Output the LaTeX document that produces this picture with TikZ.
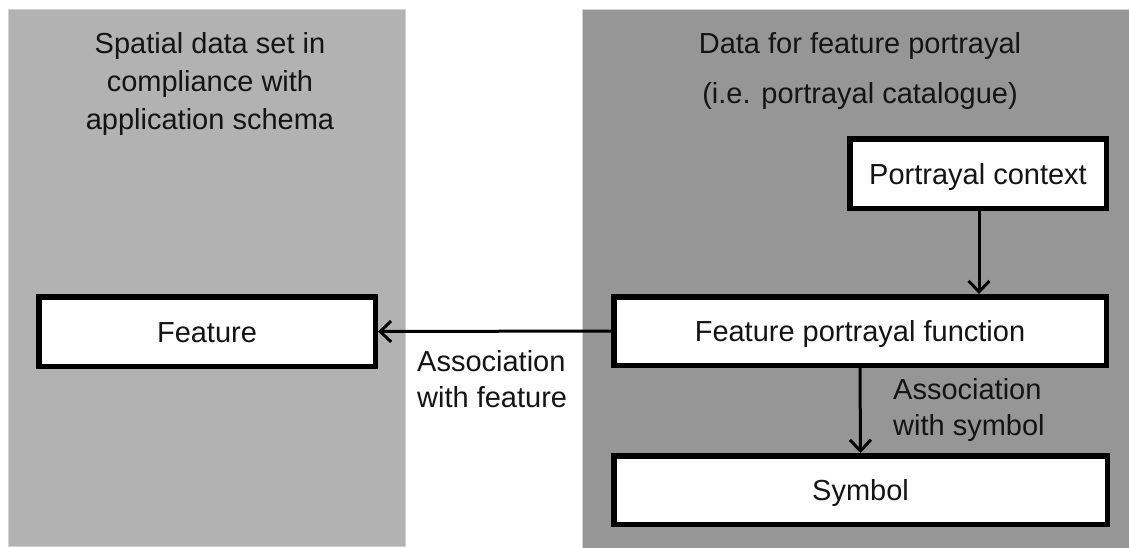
\documentclass[tikz,border=0pt]{standalone}
\usepackage{fontspec}
\setmainfont{Liberation Sans}
\usetikzlibrary{arrows.meta}
\definecolor{panelA}{HTML}{B2B2B2}
\definecolor{panelB}{HTML}{969696}
\definecolor{panelEdge}{HTML}{D2D2D2}
\definecolor{ink}{HTML}{141414}
\tikzset{
  panel/.style={draw=panelEdge, line width=0.8pt},
  box/.style={draw=black, fill=white, line width=5.5pt, inner sep=0pt,
    text height=21pt, text depth=0pt,
    font=\fontsize{29}{36}\selectfont, text=ink},
  lbl/.style={font=\fontsize{29}{36}\selectfont, text=ink, inner sep=0pt, align=left},
  ttl/.style={inner sep=0pt, align=center, text=ink},
  conn/.style={draw=black, line width=3pt,
    -{Straight Barb[length=11pt,width=21pt,line width=3pt]}},
}
\begin{document}
\begin{tikzpicture}[x=1pt,y=-1pt]
\useasboundingbox (0,0) rectangle (1129,547);
\fill[white] (0,0) rectangle (1129,547);
% panels
\path[panel, fill=panelA] (8,9.5) rectangle (405.5,546);
\path[panel, fill=panelB] (582.5,9.5) rectangle (1131,549);
% titles (anchor = baseline of last line)
\node[ttl, anchor=base, font=\fontsize{29}{38}\selectfont] (titleL) at (210,129)
  {Spatial data set in\\compliance with\\application schema};
\node[ttl, anchor=base, font=\fontsize{29}{50}\selectfont] (titleR) at (860,103)
  {Data for feature portrayal\\(i.e. portrayal catalogue)};
% boxes
\node[box, minimum width=336.5pt, minimum height=69.5pt] (feat) at (207,331.5) {Feature};
\node[box, minimum width=256.5pt, minimum height=69.5pt] (ctx) at (978,173.5) {Portrayal context};
\node[box, minimum width=492.5pt, minimum height=68.5pt] (fpf) at (860,331) {Feature portrayal function};
\node[box, minimum width=493.5pt, minimum height=68.5pt] (sym) at (860.5,490) {Symbol};
% connectors
\draw[conn] (ctx.south -| 979,0) -- (fpf.north -| 979,0);
\draw[conn] (fpf.west) -- (feat.east);
\draw[conn] (fpf.south) -- (sym.north);
% labels (anchor = baseline of last line)
\node[lbl, anchor=base west] (lblF) at (417,407) {Association\\with feature};
\node[lbl, anchor=base west] (lblS) at (893,435) {Association\\with symbol};
\end{tikzpicture}
\end{document}
